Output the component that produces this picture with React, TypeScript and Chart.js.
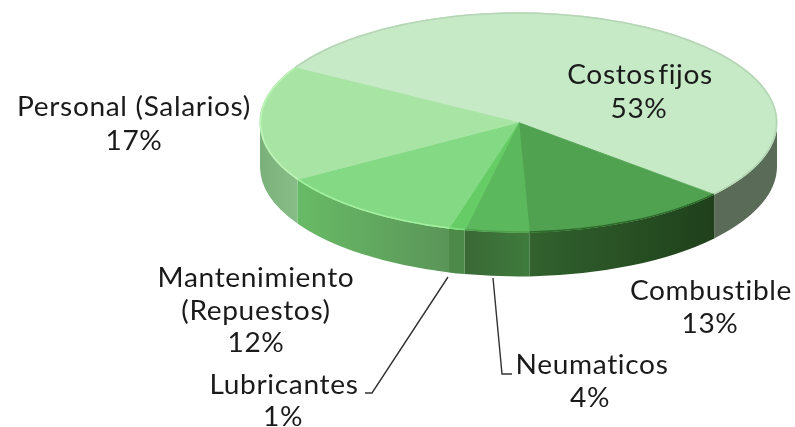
import React, { useEffect, useRef } from "react";
import { Chart, registerables } from "chart.js";

Chart.register(...registerables);

const categories = ["Costos fijos", "Combustible", "Neumaticos", "Lubricantes", "Mantenimiento (Repuestos)", "Personal (Salarios)"];
const shares = [53, 13, 4, 1, 12, 17];

const topColors = ["#c6e9c6", "#50a250", "#5cb85c", "#66cd66", "#84da84", "#a8e4a4"];
const rimColors = ["#b5d5b5", "#2f6a2c", "#4f9f4d", "#7fe07f", "#a2f0a0", "#bdf5b8"];
const wallStops = [
  ["#5a6b58", "#5a6b58"],
  ["#32622e", "#1f401b"],
  ["#3a6836", "#3f7c3c"],
  ["#4b8a49", "#4b8a49"],
  ["#68bb66", "#5a9558"],
  ["#7ab07a", "#88bd88"],
];

const labelLines = [
  { lines: ["Costos fijos", "53%"], x: [640, 639], y: [84, 118], wordGap: "-5px" },
  { lines: ["Combustible", "13%"], x: [711, 710], y: [300, 333], wordGap: "0px" },
  { lines: ["Neumaticos", "4%"], x: [592, 590], y: [374, 407], wordGap: "0px" },
  { lines: ["Lubricantes", "1%"], x: [284, 283], y: [394, 426], wordGap: "0px" },
  { lines: ["Mantenimiento", "(Repuestos)", "12%"], x: [256, 256, 256], y: [287, 320, 352], wordGap: "0px" },
  { lines: ["Personal (Salarios)", "17%"], x: [134, 134], y: [116, 150], wordGap: "0px" },
];
const leaders = [
  [[493, 278], [502, 374], [512, 374]],
  [[448, 277], [372, 393], [365, 393]],
];

const CX = 518.5, CY = 122.5, RX = 258.5, RY = 110, DEPTH = 44;
const TEXT_STRETCH = 1.08;

const pie3d = {
  id: "pie3d",
  beforeDatasetsDraw(chart: any) {
    const ctx = chart.ctx;
    const arcs = chart.getDatasetMeta(0).data;
    ctx.save();
    arcs.forEach((arc: any, i: number) => {
      for (const k of [-1, 0, 1]) {
        const a0 = Math.max(arc.startAngle + k * 2 * Math.PI, 0);
        const a1 = Math.min(arc.endAngle + k * 2 * Math.PI, Math.PI);
        if (a1 <= a0) continue;
        const xa = CX + RX * Math.cos(a0);
        const xb = CX + RX * Math.cos(a1);
        const g = ctx.createLinearGradient(xb, 0, xa, 0);
        g.addColorStop(0, wallStops[i][0]);
        g.addColorStop(1, wallStops[i][1]);
        ctx.beginPath();
        ctx.ellipse(CX, CY, RX, RY, 0, a0, a1);
        ctx.ellipse(CX, CY + DEPTH, RX, RY, 0, a1, a0, true);
        ctx.closePath();
        ctx.fillStyle = g;
        ctx.fill();
      }
    });
    ctx.restore();
    const R = arcs[0].outerRadius;
    ctx.save();
    ctx.translate(CX, CY);
    ctx.scale(RX / R, RY / R);
    ctx.translate(-arcs[0].x, -arcs[0].y);
  },
  afterDatasetsDraw(chart: any) {
    const ctx = chart.ctx;
    ctx.restore();
    const arcs = chart.getDatasetMeta(0).data;
    arcs.forEach((arc: any, i: number) => {
      ctx.beginPath();
      ctx.ellipse(CX, CY, RX - 0.5, RY - 0.5, 0, arc.startAngle, arc.endAngle);
      ctx.strokeStyle = rimColors[i];
      ctx.lineWidth = 1.5;
      ctx.stroke();
    });
    ctx.strokeStyle = "#333333";
    ctx.lineWidth = 1.4;
    leaders.forEach((pts) => {
      ctx.beginPath();
      pts.forEach((p, j) => (j ? ctx.lineTo(p[0], p[1]) : ctx.moveTo(p[0], p[1])));
      ctx.stroke();
    });
    ctx.fillStyle = "#1a1a1a";
    ctx.font = '26px Lato, "Open Sans", sans-serif';
    ctx.textAlign = "center";
    ctx.textBaseline = "alphabetic";
    ctx.letterSpacing = "0.6px";
    labelLines.forEach((l) => {
      ctx.wordSpacing = l.wordGap;
      l.lines.forEach((t, j) => {
        ctx.save();
        ctx.translate(l.x[j], l.y[j]);
        ctx.scale(TEXT_STRETCH, 1);
        ctx.fillText(t, 0, 0);
        ctx.restore();
      });
    });
    ctx.wordSpacing = "0px";
  },
};

export default function App() {
  const ref = useRef<HTMLCanvasElement>(null);
  useEffect(() => {
    const chart = new Chart(ref.current!, {
      type: "pie",
      data: {
        labels: categories,
        datasets: [
          {
            data: shares,
            backgroundColor: topColors,
            borderColor: topColors,
            borderWidth: 1,
          },
        ],
      },
      options: {
        responsive: false,
        animation: false,
        rotation: 300,
        layout: { padding: 0 },
        plugins: { legend: { display: false }, tooltip: { enabled: false } },
      },
      plugins: [pie3d],
    } as any);
    return () => chart.destroy();
  }, []);
  return (
    <div style={{ position: "absolute", left: 0, top: 0, width: 795, height: 427, background: "#fff" }}>
      <canvas ref={ref} width={795} height={427} style={{ display: "block", filter: "blur(0.6px)" }} />
    </div>
  );
}
